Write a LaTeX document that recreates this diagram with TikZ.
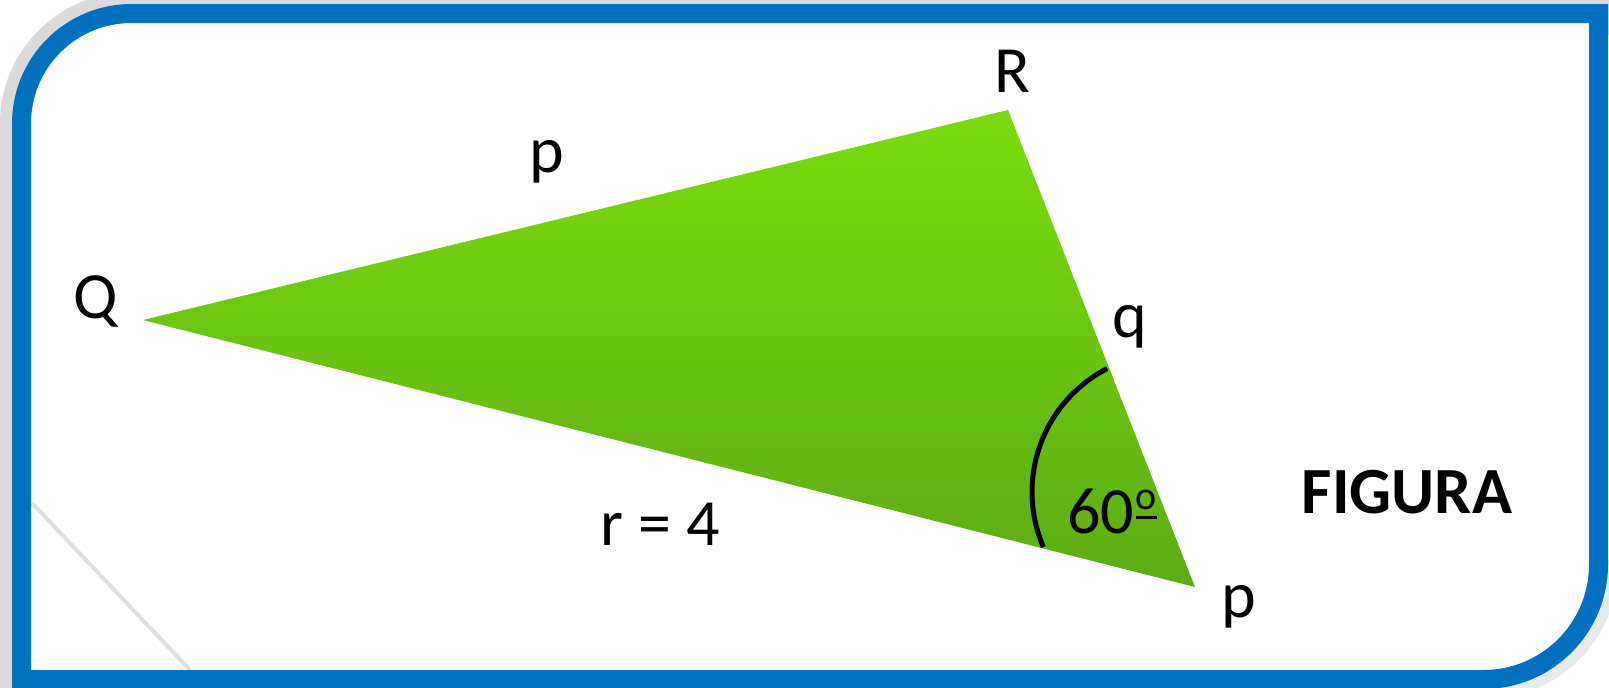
\documentclass[tikz,border=0pt]{standalone}
\usepackage{fontspec}
\setmainfont{Carlito}
\definecolor{frameblue}{HTML}{0070C0}
\definecolor{shadowgray}{HTML}{DADADA}
\definecolor{greentop}{HTML}{7ADC0C}
\definecolor{greenbot}{HTML}{5CAC14}
\definecolor{faintline}{HTML}{DEDEDE}
\newcommand{\myordo}{\kern2pt\makebox[0pt][l]{\raisebox{14pt}{\rule{21pt}{3.5pt}}}\raisebox{24pt}{\fontsize{40}{40}\selectfont o}}
\begin{document}
\begin{tikzpicture}[x=1pt,y=-1pt,
  lbl/.style={anchor=base,inner sep=0pt,font=\fontsize{66}{70}\selectfont},
  lblbold/.style={anchor=base,inner sep=0pt,font=\fontsize{66}{70}\selectfont\bfseries}]
\useasboundingbox (0,0) rectangle (1609,688);
\fill[white] (0,0) rectangle (1609,688);
% shadow of the frame
\draw[shadowgray,line width=43pt]
  (21.5,700) [rounded corners=110pt] -- (21.5,13.5) [sharp corners] -- (1620,13.5);
\draw[shadowgray!60,line width=40pt]
  (1598.5,560) [rounded corners=115pt] -- (1598.5,679.5) [sharp corners] -- (1400,679.5);
% inner white area
\fill[white] (21.5,679.5) [rounded corners=110pt] -- (21.5,13.5) [sharp corners] -- (1598.5,13.5)
  [rounded corners=115pt] -- (1598.5,679.5) [sharp corners] -- cycle;
% faint diagonal line
\draw[faintline,line width=4pt] (32,503) -- (190,670);
% triangle
\coordinate (Q) at (143,320);
\coordinate (R) at (1008,110);
\coordinate (P) at (1195,587);
\shade[top color=greentop,bottom color=greenbot] (Q) -- (R) -- (P) -- cycle;
% angle arc
\draw[black,line width=5pt] plot[domain=156.7:242.7,samples=50]
  ({1171+139*cos(\x)},{492+139*sin(\x)});
% labels
\node[lbl] (lR) at (1012,92) {R};
\node[lbl] (lQ) at (96,318) {Q};
\node[lbl] (lp) at (547,172) {p};
\node[lbl] (lq) at (1130,337) {q};
\node[lbl] (lP) at (1239,617) {p};
\node[lbl] (lr) at (660,545) {r = 4};
\node[lbl] (lang) at (1112,533) {60\myordo};
\node[lblbold] (lfig) at (1407,513) {FIGURA};
% frame
\draw[frameblue,line width=19pt] (21.5,679.5) [rounded corners=110pt] -- (21.5,13.5) [sharp corners] -- (1598.5,13.5)
  [rounded corners=115pt] -- (1598.5,679.5) [sharp corners] -- cycle;
\end{tikzpicture}
\end{document}
